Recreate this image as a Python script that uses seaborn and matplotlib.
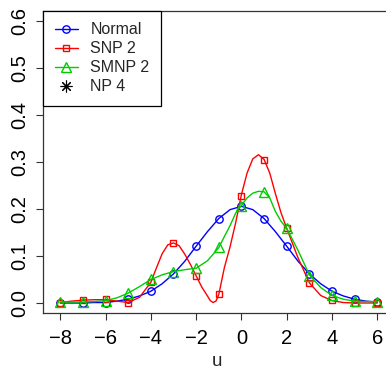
import numpy as np
import matplotlib
matplotlib.use("Agg")
import matplotlib.pyplot as plt
import seaborn as sns
from matplotlib.lines import Line2D

# valores
u_pts = [-8, -7, -6, -5, -4, -3, -2, -1, 0, 1, 2, 3, 4, 5, 6]
normal_pts = [0.000, 0.000, 0.001, 0.008, 0.025, 0.062, 0.121, 0.180, 0.206,
              0.180, 0.121, 0.062, 0.025, 0.008, 0.002]
snp_pts = [0.001, 0.006, 0.008, 0.000, 0.044, 0.127, 0.057, 0.019, 0.229,
           0.304, 0.159, 0.042, 0.006, 0.000, 0.000]
smnp_pts = [0.002, 0.002, 0.005, 0.021, 0.051, 0.067, 0.074, 0.120, 0.206,
            0.236, 0.159, 0.057, 0.016, 0.004, 0.003]

# curvas (lidas ao longo das linhas)
u_normal = [-8, -7.5, -7, -6.5, -6, -5.5, -5, -4.5, -4, -3.5, -3, -2.5, -2, -1.5,
            -1, -0.5, 0, 0.5, 1, 1.5, 2, 2.5, 3, 3.5, 4, 4.5, 5, 5.5, 6]
normal_curve = [0.000, 0.000, 0.000, 0.001, 0.001, 0.004, 0.008, 0.015, 0.025,
                0.041, 0.062, 0.089, 0.121, 0.152, 0.180, 0.199, 0.206, 0.199,
                0.180, 0.152, 0.121, 0.089, 0.062, 0.041, 0.025, 0.015, 0.008,
                0.004, 0.002]

u_snp = [-8, -7.5, -7, -6.5, -6, -5.5, -5, -4.5, -4, -3.75, -3.5, -3.25, -3,
         -2.75, -2.5, -2.25, -2, -1.75, -1.5, -1.375, -1.25, -1.125, -1, -0.75,
         -0.5, -0.25, 0, 0.25, 0.5, 0.75, 1, 1.25, 1.5, 1.75, 2, 2.5, 3, 3.5,
         4, 4.5, 5, 5.5, 6]
snp_curve = [0.001, 0.004, 0.006, 0.007, 0.007, 0.004, 0.001, 0.012, 0.044,
             0.075, 0.105, 0.124, 0.128, 0.122, 0.104, 0.082, 0.058, 0.034,
             0.015, 0.005, 0.001, 0.004, 0.018, 0.076, 0.120, 0.172, 0.231,
             0.277, 0.307, 0.316, 0.306, 0.277, 0.233, 0.192, 0.159, 0.096,
             0.043, 0.016, 0.005, 0.001, 0.000, 0.000, 0.000]

u_smnp = [-8, -7.5, -7, -6.5, -6, -5.5, -5, -4.5, -4, -3.5, -3, -2.5, -2, -1.5,
          -1, -0.75, -0.5, -0.25, 0, 0.25, 0.5, 0.75, 1, 1.25, 1.5, 1.75, 2,
          2.5, 3, 3.5, 4, 4.5, 5, 5.5, 6]
smnp_curve = [0.002, 0.002, 0.002, 0.003, 0.005, 0.011, 0.021, 0.035, 0.050,
              0.060, 0.067, 0.071, 0.074, 0.090, 0.118, 0.142, 0.165, 0.192,
              0.208, 0.224, 0.234, 0.238, 0.237, 0.224, 0.195, 0.174, 0.159,
              0.112, 0.060, 0.033, 0.016, 0.008, 0.004, 0.003, 0.003]

np4_u = [-3.95, -1.30, 0.56, 2.66]
np4_dens = [0.133, 0.228, 0.421, 0.218]

series = [
    ("Normal", u_normal, normal_curve, normal_pts, "#0000FF", "o", 5.3),
    ("SNP 2", u_snp, snp_curve, snp_pts, "#FF0000", "s", 4.9),
    ("SMNP 2", u_smnp, smnp_curve, smnp_pts, "#00CD00", "^", 6.5),
]

sns.set_theme(style="white")
plt.rcParams['font.family'] = ['Liberation Sans', 'DejaVu Sans']

fig = plt.figure(figsize=(3.86, 3.70), dpi=100)
ax = fig.add_axes([0.1114, 0.1532, 0.899, 0.818])

handles = []
for nome, uc, yc, yp, cor, mk, ms in series:
    sns.lineplot(x=uc, y=yc, ax=ax, color=cor, linewidth=1.0, sort=False)
    sns.lineplot(x=u_pts, y=yp, ax=ax, color=cor, linestyle="", marker=mk,
                 markersize=ms, markerfacecolor="none", markeredgecolor=cor,
                 markeredgewidth=1.0, sort=False)
    handles.append(Line2D([], [], color=cor, lw=1.0, marker=mk, markersize=ms,
                          markerfacecolor="none", markeredgecolor=cor))

sns.lineplot(x=np4_u, y=np4_dens, ax=ax, color="black", linestyle="",
             marker=(8, 2, 0), markersize=8.5, markeredgewidth=0.8, sort=False)
handles.append(Line2D([], [], color="black", linestyle="", marker=(8, 2, 0),
                      markersize=8.5, markeredgewidth=0.8))

ax.set_xlim(-8.76, 6.56)
ax.set_ylim(-0.022, 0.623)
ax.set_xticks([-8, -6, -4, -2, 0, 2, 4, 6])
ax.set_xticklabels(["\u22128", "\u22126", "\u22124", "\u22122", "0", "2", "4", "6"])
ax.set_yticks([0.0, 0.1, 0.2, 0.3, 0.4, 0.5, 0.6])
ax.set_yticklabels(["0.0", "0.1", "0.2", "0.3", "0.4", "0.5", "0.6"],
                   rotation=90, va="center")
ax.tick_params(axis="both", which="major", direction="out", length=5, width=0.8,
               color="#333333", labelsize=14.5, labelcolor="black",
               bottom=True, left=True)
ax.tick_params(axis="x", pad=6)
ax.tick_params(axis="y", pad=5)
for lado in ["left", "bottom", "top", "right"]:
    ax.spines[lado].set_color("#333333")
    ax.spines[lado].set_linewidth(0.9)
ax.set_xlabel("u", fontsize=13.5, labelpad=4)
ax.set_ylabel("")

leg = ax.legend(handles, ["Normal", "SNP 2", "SMNP 2", "NP 4"], loc="upper left",
                borderaxespad=0, fontsize=11.5, handlelength=1.5,
                handletextpad=0.75, labelspacing=0.25, borderpad=0.72,
                fancybox=False, framealpha=1, edgecolor="black")
leg.get_frame().set_linewidth(0.9)

plt.savefig("out.png", dpi=100)
